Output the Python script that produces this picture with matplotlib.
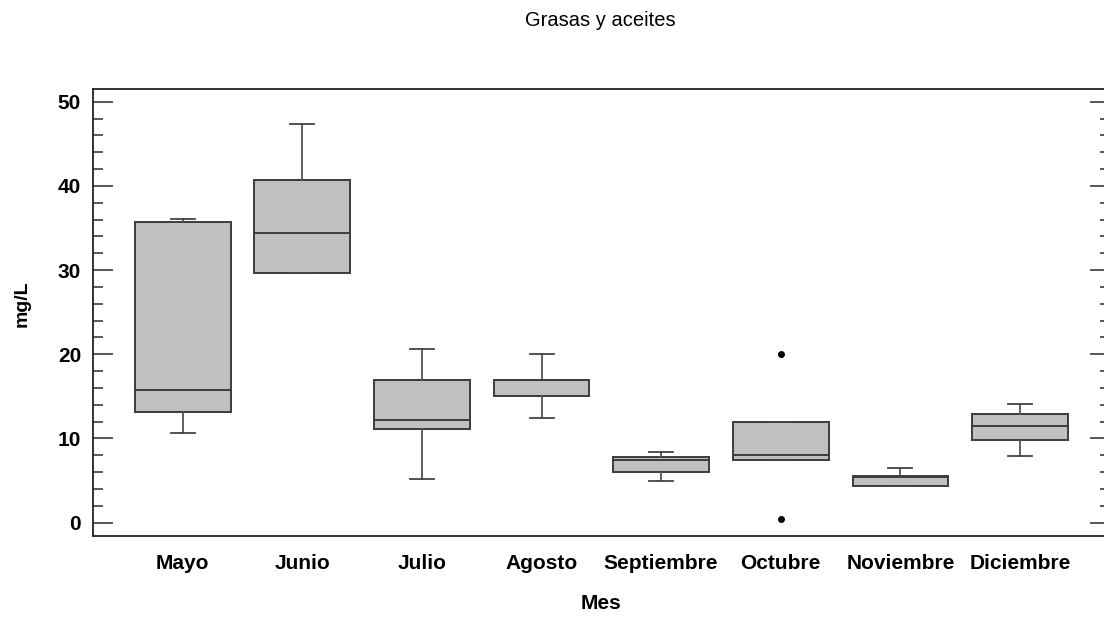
import matplotlib
matplotlib.use("Agg")
import matplotlib.pyplot as plt
from matplotlib.ticker import MultipleLocator

plt.rcParams['font.family'] = ['Liberation Sans', 'DejaVu Sans']

# monthly box summaries (mg/L)
months = ["Mayo", "Junio", "Julio", "Agosto", "Septiembre", "Octubre",
          "Noviembre", "Diciembre"]
whis_low = [10.7, 29.7, 5.2, 12.4, 4.9, 7.5, 4.4, 7.9]
q1 = [13.2, 29.7, 11.15, 15.05, 6.0, 7.5, 4.4, 9.8]
median = [15.8, 34.45, 12.2, 17.0, 7.42, 7.98, 5.45, 11.5]
q3 = [35.7, 40.7, 17.0, 17.0, 7.75, 11.9, 5.6, 12.85]
whis_high = [36.1, 47.4, 20.6, 20.0, 8.45, 11.9, 6.5, 14.1]
outliers = [[], [], [], [], [], [20.0, 0.45], [], []]

stats = []
for i, name in enumerate(months):
    stats.append({"label": name, "whislo": whis_low[i], "q1": q1[i],
                  "med": median[i], "q3": q3[i], "whishi": whis_high[i],
                  "fliers": outliers[i]})

fig = plt.figure(figsize=(11.04, 6.17), dpi=100)
ax = fig.add_axes([0.0842, 0.1318, 0.921, 0.7235])

edge = "#3c3c3c"
ax.bxp(stats, positions=range(1, len(months) + 1), widths=0.8,
       patch_artist=True, capwidths=0.2,
       boxprops=dict(facecolor="#c0c0c0", edgecolor=edge, linewidth=1.4),
       medianprops=dict(color=edge, linewidth=1.4),
       whiskerprops=dict(color="#555555", linewidth=1.3),
       capprops=dict(color="#444444", linewidth=1.3),
       flierprops=dict(marker="o", markersize=4, markerfacecolor="black",
                       markeredgecolor="black"))

ax.set_xlim(0.25, 8.75)
ax.set_ylim(-1.55, 51.49)

ax.yaxis.set_major_locator(MultipleLocator(10))
ax.yaxis.set_minor_locator(MultipleLocator(2))
ax.tick_params(axis="y", which="both", direction="in", left=True,
               right=True, color="#4a4a4a", width=1.3)
ax.tick_params(axis="y", which="major", length=14.5, pad=8.5)
ax.tick_params(axis="y", which="minor", length=7.2)
ax.tick_params(axis="x", length=0, pad=13)

for lab in ax.get_xticklabels() + ax.get_yticklabels():
    lab.set_fontsize(15)
    lab.set_fontweight("bold")

ax.spines["right"].set_visible(False)
for side in ("left", "top", "bottom"):
    ax.spines[side].set_linewidth(1.3)
    ax.spines[side].set_color("#222222")

ax.set_xlabel("Mes", fontsize=15, fontweight="bold")
ax.xaxis.set_label_coords(0.5, -0.13)
ax.set_ylabel("mg/L", fontsize=14, fontweight="bold")
ax.yaxis.set_label_coords(-0.061, 0.52)

fig.text(600 / 1104, 1 - 21 / 617, "Grasas y aceites", fontsize=14.5,
         ha="center", va="center")

fig.savefig("out.png", dpi=100)
